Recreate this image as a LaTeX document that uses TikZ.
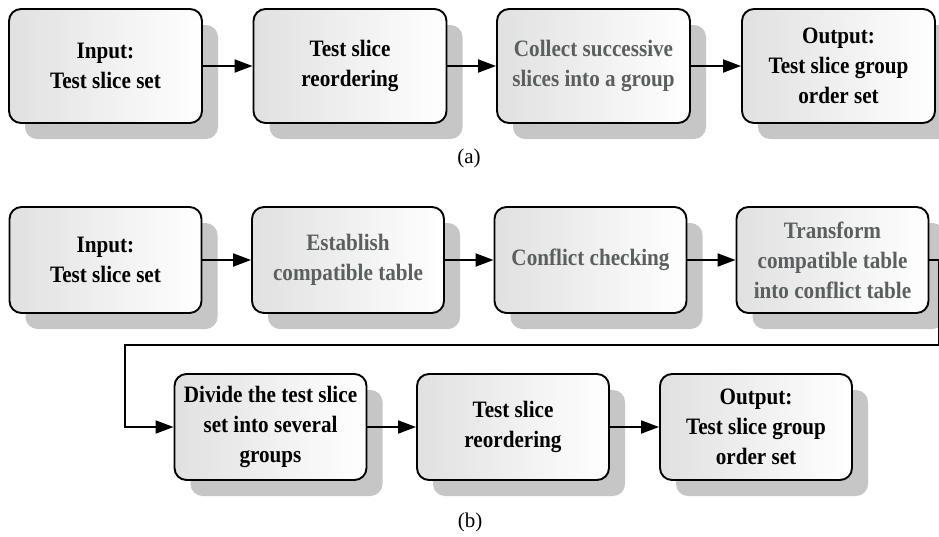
\documentclass[tikz,border=0pt]{standalone}
\usepackage{fontspec}
\setmainfont{Liberation Serif}
\newfontfamily\boxfont[FakeStretch=0.9]{Liberation Serif}
\usetikzlibrary{arrows.meta,shadows}
\definecolor{txtgray}{HTML}{5A5F60}
\definecolor{shadowgray}{HTML}{C6C6C6}
\begin{document}
\begin{tikzpicture}[x=1pt,y=-1pt,
  box/.style={draw=black, line width=1.9pt, rounded corners=12pt,
    left color=black!12, right color=white,
    align=center, font=\boxfont\fontsize{23.5}{30}\selectfont\bfseries,
    inner sep=0pt, minimum width=193pt,
    drop shadow={shadow xshift=16pt, shadow yshift=-16pt, fill=shadowgray, opacity=1}},
  boxa/.style={box, minimum height=114pt},
  boxb/.style={box, minimum height=106pt, minimum width=192pt},
  gtxt/.style={text=txtgray},
  conn/.style={line width=1.9pt, -{Triangle[length=18pt,width=13pt]}},
  lab/.style={font=\fontsize{21}{24}\selectfont}
]
\useasboundingbox (0,0) rectangle (939,536);
% (a)
\node[boxa] (a1) at (105.5,66) {Input:\\Test slice set};
\node[boxa] (a2) at (350,66) {Test slice\\reordering};
\node[boxa,gtxt] (a3) at (593.5,66) {Collect successive\\slices into a group};
\node[boxa] (a4) at (838.5,66) {Output:\\Test slice group\\order set};
\draw[conn] (a1) -- (a2);
\draw[conn] (a2) -- (a3);
\draw[conn] (a3) -- (a4);
\node[lab] (la) at (469,158) {(a)};
% (b)
\node[boxb] (b1) at (105.5,260) {Input:\\Test slice set};
\node[boxb,gtxt] (b2) at (348,260) {Establish\\compatible table};
\node[boxb,gtxt] (b3) at (590.5,260) {Conflict checking};
\node[boxb,gtxt] (b4) at (832.5,260) {Transform\\compatible table\\into conflict table};
\node[boxb] (b5) at (270.5,427) {Divide the test slice\\set into several\\groups};
\node[boxb] (b6) at (513,427) {Test slice\\reordering};
\node[boxb] (b7) at (756,427) {Output:\\Test slice group\\order set};
\draw[conn] (b1) -- (b2);
\draw[conn] (b2) -- (b3);
\draw[conn] (b3) -- (b4);
\coordinate (e1) at (939,260);
\coordinate (e2) at (939,345);
\coordinate (e3) at (125,345);
\coordinate (e4) at (125,427);
\draw[conn] (b4.east) -- (e1) -- (e2) -- (e3) -- (e4) -- (b5.west);
\draw[conn] (b5) -- (b6);
\draw[conn] (b6) -- (b7);
\node[lab] (lb) at (470,522) {(b)};
\end{tikzpicture}
\end{document}
